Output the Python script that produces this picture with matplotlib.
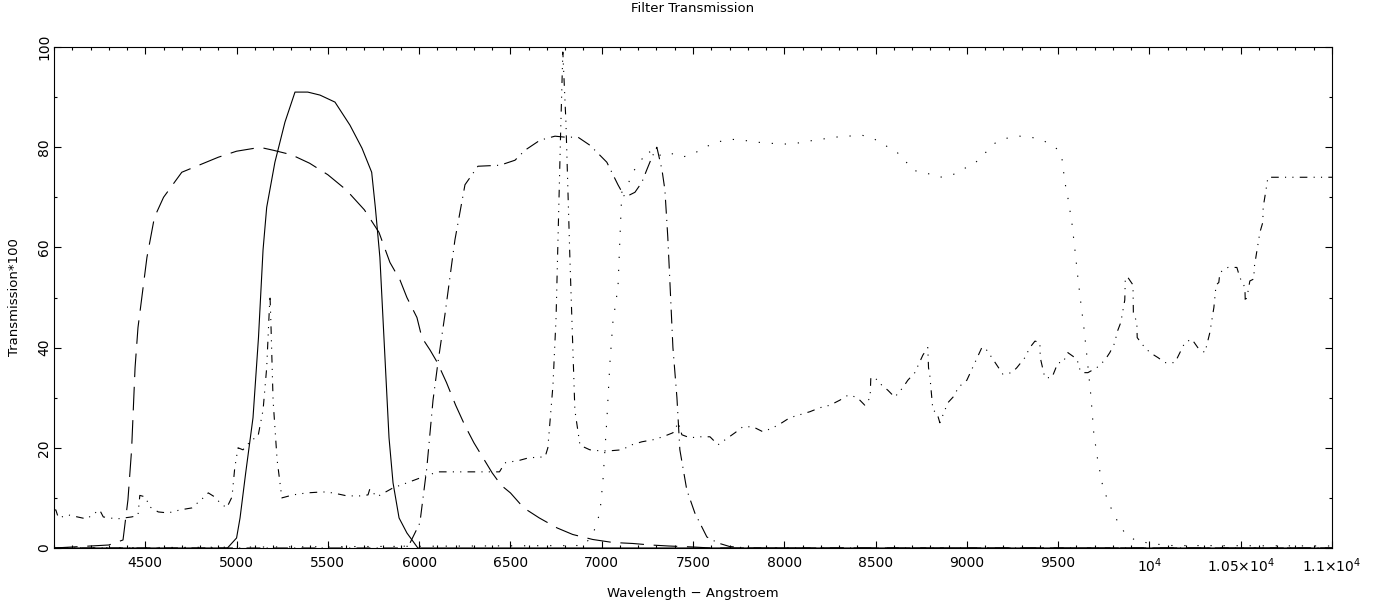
import matplotlib
matplotlib.use('Agg')
import matplotlib.pyplot as plt
from matplotlib.ticker import MultipleLocator, FixedLocator, FixedFormatter

# ---------------- data ----------------
# solid curve (V-like filter)
v_wl = [4000, 4950, 5000, 5019, 5050, 5090, 5120, 5145, 5165, 5210, 5265, 5320, 5390, 5457,
        5539, 5621, 5687, 5740, 5760, 5785, 5810, 5835, 5857, 5890, 5933, 5993, 11000]
v_tr = [0, 0, 2, 6, 15, 26, 42, 59.5, 68, 77, 85, 91, 91, 90.4,
        89, 84.4, 79.8, 75, 68, 58, 40, 22, 13, 6, 3, 0, 0]

# long-dashed curve (broad blue filter)
b_wl = [4000, 4100, 4200, 4300, 4378, 4405, 4425, 4444, 4460, 4509, 4550, 4600, 4700, 4800,
        4900, 5000, 5100, 5150, 5200, 5300, 5400, 5500, 5600, 5700, 5780, 5840, 5895, 5933,
        5988, 6015, 6060, 6100, 6150, 6200, 6250, 6300, 6350, 6400, 6450, 6500, 6573, 6658,
        6756, 6841, 6951, 7061, 7171, 7268, 7366, 7500, 7600, 11000]
b_tr = [0, 0.2, 0.4, 0.6, 1.6, 9.6, 19.6, 36, 44, 58, 66, 70, 75, 76.5,
        78, 79.2, 79.8, 79.8, 79.4, 78.5, 76.8, 74.5, 71.5, 67.5, 63, 57, 53.5, 50,
        46, 42, 39.5, 37, 33, 28.5, 24.5, 21, 18, 15, 12.5, 11, 8, 6,
        4, 2.7, 1.7, 1.1, 0.9, 0.6, 0.4, 0.2, 0, 0]

# dash-dot curve (red filter)
r_wl = [4000, 5900, 5950, 6004, 6042, 6076, 6103, 6141, 6196, 6251, 6322, 6443, 6525, 6580,
        6662, 6744, 6800, 6870, 6935, 6990, 7028, 7089, 7127, 7182, 7220, 7247, 7275, 7302,
        7330, 7346, 7362, 7373, 7390, 7412, 7428, 7466, 7510, 7576, 7637, 7700, 7800, 11000]
r_tr = [0, 0, 1, 5, 16, 29.5, 37, 46.5, 61.5, 72.5, 76.2, 76.4, 77.4, 79.4,
        81.4, 82.2, 82, 82, 80.4, 78.4, 77, 72.5, 70, 71, 73, 75.5, 78, 80,
        75.5, 71.5, 62, 53.5, 40, 30, 19.6, 11.6, 7, 2.2, 1, 0.3, 0, 0]

# dotted curve (broad red/IR filter)
i_wl = [4000, 6900, 6950, 6990, 7007, 7028, 7045, 7061, 7089, 7100, 7110, 7143, 7170, 7209,
        7253, 7290, 7362, 7439, 7499, 7565, 7631, 7702, 7773, 7850, 7921, 7992, 8069, 8130,
        8206, 8277, 8348, 8425, 8485, 8551, 8617, 8660, 8704, 8781, 8852, 8918, 8978, 9044,
        9099, 9154, 9220, 9290, 9350, 9410, 9460, 9500, 9520, 9537, 9553, 9564, 9575, 9592,
        9608, 9624, 9641, 9657, 9679, 9695, 9717, 9745, 9767, 9794, 9827, 9865, 9920, 9991,
        10100, 11000]
i_tr = [0, 0.5, 2.5, 7, 13.6, 25.5, 37, 45, 52, 62, 71, 72.5, 75, 77,
        79.4, 78, 79, 78, 78.6, 80, 81, 81.6, 81.4, 81, 80.8, 80.6, 80.8, 81.2,
        81.6, 82, 82.2, 82.4, 81.8, 80.4, 79, 77.4, 75.4, 74.8, 74, 74.4, 75.6, 76.8,
        78.8, 80.8, 81.8, 82.2, 82, 81.5, 80.5, 79.5, 78, 73, 70, 67.5, 65, 59.5,
        54, 49, 44, 38.5, 30.5, 23, 17.5, 12.2, 10, 7.6, 5.2, 3, 1.6, 1,
        0.5, 0.4]

# dash-dot-dot curve (wiggly spectrum)
w_wl = [4000, 4010, 4024, 4078, 4179, 4225, 4250, 4270, 4344, 4425, 4460, 4470, 4500, 4525,
        4571, 4625, 4690, 4755, 4817, 4845, 4880, 4910, 4946, 4975, 4990, 5008, 5035, 5083,
        5117, 5145, 5165, 5183, 5188, 5200, 5222, 5248, 5309, 5385, 5473, 5528, 5605, 5675,
        5720, 5730, 5768, 5857, 5933, 6021, 6103, 6200, 6300, 6440, 6470, 6550, 6600, 6690,
        6705, 6733, 6750, 6775, 6787, 6804, 6826, 6842, 6853, 6881, 6935, 6990, 7045, 7110,
        7165, 7220, 7280, 7335, 7390, 7420, 7439, 7483, 7538, 7593, 7637, 7691, 7730, 7773,
        7828, 7883, 7938, 7987, 8030, 8085, 8140, 8195, 8250, 8304, 8349, 8398, 8441, 8470,
        8474, 8496, 8534, 8567, 8605, 8649, 8677, 8715, 8759, 8786, 8790, 8797, 8814, 8836,
        8852, 8896, 8934, 8951, 9000, 9044, 9082, 9099, 9137, 9164, 9197, 9247, 9274, 9318,
        9345, 9373, 9400, 9402, 9427, 9466, 9499, 9526, 9553, 9603, 9620, 9630, 9663, 9712,
        9756, 9783, 9811, 9822, 9843, 9865, 9868, 9882, 9910, 9912, 9931, 9933, 9964, 10003,
        10047, 10085, 10140, 10167, 10194, 10232, 10265, 10304, 10331, 10353, 10365, 10380,
        10386, 10430, 10479, 10495, 10523, 10525, 10539, 10550, 10572, 10574, 10583, 10605,
        10621, 10623, 10643, 10649, 10698, 11000]
w_tr = [7.6, 7.6, 6.0, 6.6, 5.8, 7.0, 7.6, 6.2, 5.8, 6.2, 6.5, 10.5, 10.2, 8.2,
        7.2, 7.0, 7.6, 8.0, 10.0, 11.0, 10.2, 9.0, 8.0, 10.2, 16, 20, 19.6, 21.6,
        22.2, 27.5, 36, 50.5, 45, 29.5, 17.6, 10, 10.6, 11, 11.2, 11, 10.4, 10.4,
        10.6, 11.8, 10.2, 12, 13, 14.2, 15.2, 15.2, 15.2, 15.2, 17, 17.5, 18, 18.2,
        20, 32.5, 46, 83, 99, 85, 57.5, 39.5, 27.5, 20.5, 19.6, 19.4, 19.4, 19.6,
        20.6, 21.2, 21.6, 22.2, 23, 25, 22.6, 22, 22.2, 22.2, 20.6, 22, 23, 24.2,
        24.2, 23.2, 24, 25, 26, 26.6, 27.2, 28, 28.5, 29.5, 30.5, 30.1, 28.5, 30,
        34, 34, 32.5, 31.5, 30.1, 32, 33.5, 35, 38.5, 40, 36, 34.5, 27.5, 27,
        25, 29, 30.5, 32, 33.5, 37, 40, 40, 38, 36.5, 34.7, 35, 36, 38,
        40, 41.3, 41, 38, 34, 34, 37, 37, 39, 37.7, 35.5, 35, 35, 36,
        37.5, 39, 41, 43, 45, 49.5, 54, 54, 52.5, 47, 45, 42, 40.5, 39,
        38, 37, 37, 39, 41, 41.7, 40, 39, 43, 48, 52.5, 53,
        55, 56, 56, 54, 52, 49, 51, 53.3, 53.7, 56, 58, 63,
        65, 68, 72.5, 74, 74, 74]

x_ticks = [4500, 5000, 5500, 6000, 6500, 7000, 7500, 8000, 8500, 9000, 9500, 10000, 10500, 11000]
x_tick_labels = ['4500', '5000', '5500', '6000', '6500', '7000', '7500', '8000', '8500',
                 '9000', '9500', r'$\mathregular{10^{4}}$', r'$\mathregular{1.05{\times}10^{4}}$',
                 r'$\mathregular{1.1{\times}10^{4}}$']

title = 'Filter Transmission'
x_label = 'Wavelength \u2212 Angstroem'
y_label = 'Transmission*100'

# ---------------- figure ----------------
plt.rcParams['font.family'] = ['DejaVu Sans']
plt.rcParams['lines.scale_dashes'] = False
plt.rcParams['mathtext.default'] = 'regular'

W, H = 1390, 610
fig = plt.figure(figsize=(W / 100, H / 100), dpi=100)
L, R, T, B = 54, 1332, 47, 548
ax = fig.add_axes([L / W, (H - B) / H, (R - L) / W, (B - T) / H])

lw = 0.8
ax.plot(v_wl, v_tr, color='black', lw=lw, linestyle='-')
ax.plot(b_wl, b_tr, color='black', lw=lw, linestyle=(0, (17, 7)))
ax.plot(r_wl, r_tr, color='black', lw=lw, linestyle=(0, (10, 4.5, 0.8, 4.5)))
ax.plot(i_wl, i_tr, color='black', lw=lw, linestyle=(0, (0.9, 8.5)))
ax.plot(w_wl, w_tr, color='black', lw=lw, linestyle=(0, (5.5, 4.5, 0.8, 4.5, 0.8, 4.5)))

ax.set_xlim(4000, 11000)
ax.set_ylim(0, 100)

ax.xaxis.set_major_locator(FixedLocator(x_ticks))
ax.xaxis.set_major_formatter(FixedFormatter(x_tick_labels))
ax.xaxis.set_minor_locator(MultipleLocator(100))
ax.yaxis.set_major_locator(MultipleLocator(20))
ax.yaxis.set_minor_locator(MultipleLocator(10))

ax.tick_params(which='both', direction='in', top=True, right=True, width=0.8, colors='black')
ax.tick_params(which='major', length=5)
ax.tick_params(which='minor', length=2.5)
ax.tick_params(axis='x', which='major', labelsize=10, pad=6)
ax.tick_params(axis='y', which='major', labelsize=10, pad=2, labelrotation=90)
for lbl in ax.get_yticklabels():
    lbl.set_va('center')

for sp in ax.spines.values():
    sp.set_linewidth(0.8)

ax.set_xlabel(x_label, fontsize=9.5)
ax.xaxis.set_label_coords(0.5, (B - 594) / (B - T))
ax.xaxis.label.set_va('center')
ax.set_ylabel(y_label, fontsize=9.5)
ax.yaxis.set_label_coords((15 - L) / (R - L), 0.5)
ax.yaxis.label.set_va('center')

fig.text(0.5 * (L + R) / W, 1 - 8 / H, title, ha='center', va='center', fontsize=9.5)

fig.savefig('out.png', dpi=100)
